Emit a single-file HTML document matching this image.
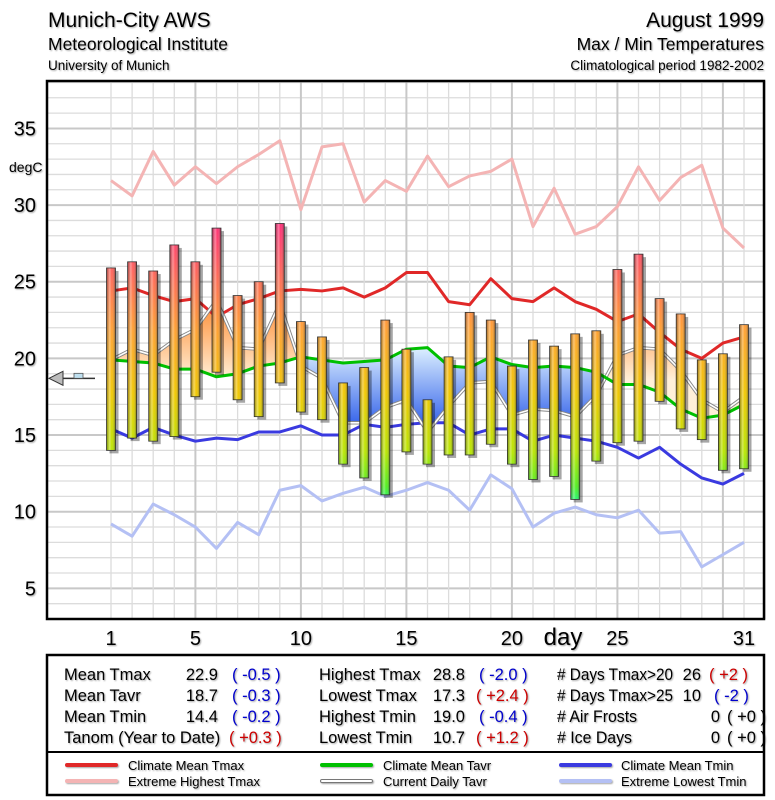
<!DOCTYPE html>
<html><head><meta charset="utf-8"><style>
html,body{margin:0;padding:0;background:#fff;}
svg{display:block;font-family:"Liberation Sans",Arial,sans-serif;}
.sh{filter:drop-shadow(1.5px 1.5px 0.8px rgba(0,0,0,0.35));}
</style></head><body>
<svg id="chart" width="775" height="800" viewBox="0 0 775 800" xmlns="http://www.w3.org/2000/svg">
<defs>
<linearGradient id="barGrad" gradientUnits="userSpaceOnUse" x1="0" y1="220" x2="0" y2="510">
<stop offset="0" stop-color="#ff2a7a"/>
<stop offset="0.2" stop-color="#ff6a55"/>
<stop offset="0.38" stop-color="#ffa030"/>
<stop offset="0.6" stop-color="#f0c800"/>
<stop offset="0.8" stop-color="#b8e600"/>
<stop offset="0.92" stop-color="#50f020"/>
<stop offset="1" stop-color="#00ffaa"/>
</linearGradient>
<linearGradient id="barShade" x1="0" y1="0" x2="1" y2="0">
<stop offset="0" stop-color="#000" stop-opacity="0.35"/>
<stop offset="0.35" stop-color="#fff" stop-opacity="0.35"/>
<stop offset="0.6" stop-color="#fff" stop-opacity="0"/>
<stop offset="1" stop-color="#000" stop-opacity="0.45"/>
</linearGradient>
<linearGradient id="warmGrad" gradientUnits="userSpaceOnUse" x1="0" y1="300" x2="0" y2="380">
<stop offset="0" stop-color="#ff8a30"/>
<stop offset="1" stop-color="#fff0d8"/>
</linearGradient>
<linearGradient id="coolGrad" gradientUnits="userSpaceOnUse" x1="0" y1="350" x2="0" y2="430">
<stop offset="0" stop-color="#d8ecff"/>
<stop offset="1" stop-color="#2a5ae8"/>
</linearGradient>
<clipPath id="plotClip"><rect x="47" y="81" width="717" height="538"/></clipPath>
<clipPath id="aboveClim"><polygon id="aboveClimPoly"/></clipPath>
<clipPath id="belowClim"><polygon id="belowClimPoly"/></clipPath>
</defs>

<g class="sh">
<text x="48" y="27" font-size="21">Munich-City AWS</text>
<text x="48" y="50" font-size="17.5">Meteorological Institute</text>
<text x="48" y="70" font-size="13.5">University of Munich</text>
<text x="764" y="27" font-size="21" text-anchor="end">August 1999</text>
<text x="764" y="50" font-size="17.5" text-anchor="end">Max / Min Temperatures</text>
<text x="764" y="70" font-size="13.5" text-anchor="end">Climatological period 1982-2002</text>
</g>

<g id="grid"></g>
<g id="plot" clip-path="url(#plotClip)"></g>
<rect x="47" y="81" width="717" height="538" fill="none" stroke="#000" stroke-width="2.5"/>
<g id="axes" class="sh"></g>

<g>
<rect x="47" y="655" width="717" height="140" fill="#fff" stroke="#000" stroke-width="2.5"/>
<line x1="47" y1="752" x2="764" y2="752" stroke="#000" stroke-width="2"/>
<g font-size="16.5" class="sh">
<text x="64" y="680">Mean Tmax</text><text x="218" y="680" text-anchor="end">22.9</text><text x="232" y="680" fill="#0000cc">( -0.5 )</text>
<text x="64" y="701">Mean Tavr</text><text x="218" y="701" text-anchor="end">18.7</text><text x="232" y="701" fill="#0000cc">( -0.3 )</text>
<text x="64" y="722">Mean Tmin</text><text x="218" y="722" text-anchor="end">14.4</text><text x="232" y="722" fill="#0000cc">( -0.2 )</text>
<text x="64" y="743">Tanom (Year to Date)</text><text x="229" y="743" fill="#cc0000">( +0.3 )</text>
<text x="319" y="680">Highest Tmax</text><text x="465" y="680" text-anchor="end">28.8</text><text x="479" y="680" fill="#0000cc">( -2.0 )</text>
<text x="319" y="701">Lowest Tmax</text><text x="465" y="701" text-anchor="end">17.3</text><text x="476" y="701" fill="#cc0000">( +2.4 )</text>
<text x="319" y="722">Highest Tmin</text><text x="465" y="722" text-anchor="end">19.0</text><text x="479" y="722" fill="#0000cc">( -0.4 )</text>
<text x="319" y="743">Lowest Tmin</text><text x="465" y="743" text-anchor="end">10.7</text><text x="476" y="743" fill="#cc0000">( +1.2 )</text>
<text x="557" y="680" textLength="116" lengthAdjust="spacingAndGlyphs"># Days Tmax&gt;20</text><text x="701" y="680" text-anchor="end">26</text><text x="709" y="680" fill="#cc0000">( +2 )</text>
<text x="557" y="701" textLength="116" lengthAdjust="spacingAndGlyphs"># Days Tmax&gt;25</text><text x="701" y="701" text-anchor="end">10</text><text x="714" y="701" fill="#0000cc">( -2 )</text>
<text x="557" y="722" textLength="80" lengthAdjust="spacingAndGlyphs"># Air Frosts</text><text x="720" y="722" text-anchor="end">0</text><text x="727" y="722">( +0 )</text>
<text x="557" y="743" textLength="75" lengthAdjust="spacingAndGlyphs"># Ice Days</text><text x="720" y="743" text-anchor="end">0</text><text x="727" y="743">( +0 )</text>
</g>
<g font-size="13" class="sh">
<g><line x1="67" y1="765" x2="116" y2="765" stroke="#e02828" stroke-width="4" stroke-linecap="round"/><text x="128" y="770">Climate Mean Tmax</text></g>
<g><line x1="67" y1="781" x2="116" y2="781" stroke="#f4b4b4" stroke-width="4" stroke-linecap="round"/><text x="128" y="786">Extreme Highest Tmax</text></g>
<g><line x1="322" y1="765" x2="371" y2="765" stroke="#00c000" stroke-width="4" stroke-linecap="round"/><text x="383" y="770">Climate Mean Tavr</text></g>
<g><line x1="322" y1="781" x2="371" y2="781" stroke="#777" stroke-width="4" stroke-linecap="round"/><line x1="322" y1="781" x2="371" y2="781" stroke="#fff" stroke-width="2" stroke-linecap="round"/><text x="383" y="786">Current Daily Tavr</text></g>
<g><line x1="561" y1="765" x2="610" y2="765" stroke="#3a3ae0" stroke-width="4" stroke-linecap="round"/><text x="621" y="770">Climate Mean Tmin</text></g>
<g><line x1="561" y1="781" x2="610" y2="781" stroke="#b4c0f4" stroke-width="4" stroke-linecap="round"/><text x="621" y="786">Extreme Lowest Tmin</text></g>
</g>
</g>
</svg>
<script>
const days=[1,2,3,4,5,6,7,8,9,10,11,12,13,14,15,16,17,18,19,20,21,22,23,24,25,26,27,28,29,30,31];
const tmax=[25.9,26.3,25.7,27.4,26.3,28.5,24.1,25.0,28.8,22.4,21.4,18.4,19.4,22.5,20.6,17.3,20.1,23.0,22.5,19.5,21.2,20.8,21.6,21.8,25.8,26.8,23.9,22.9,19.9,20.3,22.2];
const tmin=[14.0,14.8,14.6,14.9,17.5,19.1,17.3,16.2,18.4,16.5,16.0,13.1,12.2,11.1,13.9,13.1,13.7,13.7,14.4,13.1,12.1,12.3,10.8,13.3,14.5,14.6,17.2,15.4,14.7,12.7,12.8];
const tavr=[19.9,20.6,20.2,21.2,21.9,23.8,20.7,20.6,23.6,19.5,18.7,15.8,15.8,16.8,17.3,15.2,16.9,18.4,18.5,16.3,16.7,16.6,16.2,17.6,20.2,20.7,20.6,19.2,17.3,16.5,17.5];
const climTmax=[24.4,24.6,24.1,23.7,23.9,22.7,23.5,23.9,24.4,24.5,24.4,24.6,24.0,24.6,25.6,25.6,23.7,23.5,25.2,23.9,23.7,24.6,23.7,23.2,22.4,22.9,21.7,20.6,20.0,21.0,21.4];
const climTavr=[19.9,19.8,19.7,19.3,19.3,18.8,19.0,19.5,19.7,20.1,19.9,19.7,19.8,19.9,20.6,20.7,19.5,19.4,20.1,19.6,19.4,19.5,19.4,19.1,18.3,18.3,17.8,16.7,16.1,16.3,17.0];
const climTmin=[15.4,14.8,15.5,15.0,14.6,14.8,14.7,15.2,15.2,15.6,15.0,15.0,15.7,15.5,15.7,15.8,15.8,15.0,15.4,15.4,14.6,15.0,14.8,14.6,14.2,13.5,14.2,13.1,12.2,11.8,12.5];
const extHigh=[31.6,30.6,33.5,31.3,32.5,31.4,32.5,33.3,34.2,29.7,33.8,34.0,30.2,31.6,30.9,33.2,31.2,31.9,32.2,33.0,28.6,31.1,28.1,28.6,29.9,32.5,30.3,31.8,32.6,28.5,27.2];
const extLow=[9.2,8.4,10.5,9.8,9.0,7.6,9.3,8.5,11.4,11.7,10.7,11.2,11.6,11.0,11.4,11.9,11.4,10.1,12.4,11.5,9.0,9.9,10.3,9.8,9.6,10.1,8.6,8.7,6.4,7.2,8.0];
const meanTavr=18.7;
const yTicks=[5,10,15,20,25,30,35];
const xTicks=[1,5,10,15,20,25,31];

const NS='http://www.w3.org/2000/svg';
const X=d=>111+(d-1)*21.1;
const Y=v=>619-(v-3)*15.33;
function mk(tag,attrs,parent){const e=document.createElementNS(NS,tag);for(const k in attrs)e.setAttribute(k,attrs[k]);parent.appendChild(e);return e;}
const grid=document.getElementById('grid'),plot=document.getElementById('plot'),axes=document.getElementById('axes');

for(let v=4;v<=38;v++){const l=mk('line',{x1:47,x2:764,y1:Y(v),y2:Y(v),stroke:v%5===0?'#c8c8c8':'#dcdcdc','stroke-width':v%5===0?2:1.3},grid);

}
for(let d=1;d<=32;d++){const l=mk('line',{x1:X(d),x2:X(d),y1:81,y2:619,stroke:d%5===0?'#c8c8c8':'#dcdcdc','stroke-width':d%5===0?2:1.3},grid);

}

yTicks.forEach(v=>{const t=mk('text',{x:36,y:Y(v)+7,'font-size':20,'text-anchor':'end'},axes);t.textContent=v;

});
const yt=mk('text',{x:9,y:172,'font-size':14},axes);yt.textContent='degC';


xTicks.forEach(d=>{const t=mk('text',{x:X(d),y:645,'font-size':20,'text-anchor':'middle'},axes);t.textContent=d;

});
const xt=mk('text',{x:563,y:645,'font-size':24,'text-anchor':'middle'},axes);xt.textContent='day';



const pts=arr=>arr.map((v,i)=>X(days[i])+','+Y(v)).join(' ');
const climPts=climTavr.map((v,i)=>[X(days[i]),Y(v)]);
const above=[[X(1),81]].concat(climPts,[[X(31),81]]);
const below=[[X(1),619]].concat(climPts,[[X(31),619]]);
document.getElementById('aboveClimPoly').setAttribute('points',above.map(p=>p.join(',')).join(' '));
document.getElementById('belowClimPoly').setAttribute('points',below.map(p=>p.join(',')).join(' '));
const bandPts=pts(tavr)+' '+climTavr.map((v,i)=>[X(days[i]),Y(v)]).reverse().map(p=>p.join(',')).join(' ');
const warm=mk('polygon',{points:bandPts,fill:'url(#warmGrad)','clip-path':'url(#aboveClim)'},plot);


const cool=mk('polygon',{points:bandPts,fill:'url(#coolGrad)','clip-path':'url(#belowClim)'},plot);



function line(arr,color,w,name){const p=mk('polyline',{points:pts(arr),fill:'none',stroke:color,'stroke-width':w,'stroke-linejoin':'round'},plot);

return p;}
line(extHigh,'#f4b4b4',3,'extreme-highest-tmax-line');
line(extLow,'#b4c0f4',3,'extreme-lowest-tmin-line');
line(climTmax,'#e02828',3,'climate-mean-tmax-line');
line(climTmin,'#3a3ae0',3,'climate-mean-tmin-line');
line(tavr,'#888',3.5,'current-tavr-outline');
line(tavr,'#fff',1.6,'current-daily-tavr-line');
line(climTavr,'#00c000',3,'climate-mean-tavr-line');

days.forEach((d,i)=>{
const x=X(d)-4.5,y1=Y(tmax[i]),y2=Y(tmin[i]);
const g=mk('g',{},plot);


mk('rect',{x:x+3,y:y1+3,width:9,height:y2-y1,fill:'#000',opacity:0.35},g);
mk('rect',{x:x,y:y1,width:9,height:y2-y1,fill:'url(#barGrad)'},g);
mk('rect',{x:x,y:y1,width:9,height:y2-y1,fill:'url(#barShade)',stroke:'#333','stroke-width':0.8},g);
});

const ar=mk('g',{},plot);


const ay=Y(meanTavr);
mk('line',{x1:60,x2:95,y1:ay,y2:ay,stroke:'#333','stroke-width':1.5},ar);
mk('polygon',{points:`49,${ay} 63,${ay-7} 63,${ay+7}`,fill:'#bbb',stroke:'#333','stroke-width':1},ar);
mk('rect',{x:74,y:ay-5,width:9,height:5,fill:'#bfe0f0',stroke:'#555','stroke-width':0.8},ar);
</script>
</body></html>
